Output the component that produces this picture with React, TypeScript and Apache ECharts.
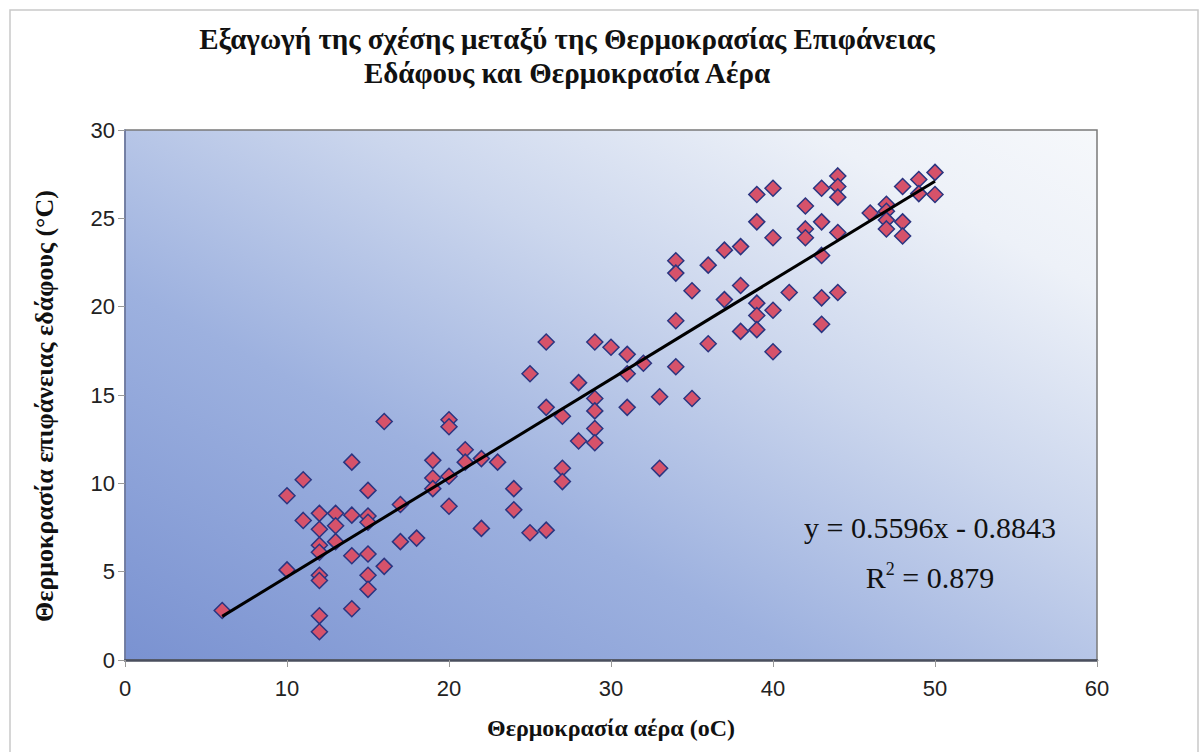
import React, { useEffect, useRef } from "react";
import * as echarts from "echarts";

// Air temperature (x) and soil surface temperature (y)
const airTemp = [
  6,
  10, 10,
  11, 11,
  12, 12, 12, 12, 12, 12, 12, 12,
  13, 13, 13,
  14, 14, 14, 14,
  15, 15, 15, 15, 15, 15,
  16, 16,
  17, 17,
  18,
  19, 19, 19,
  20, 20, 20, 20,
  21, 21,
  22, 22,
  23,
  24, 24,
  25, 25,
  26, 26, 26,
  27, 27, 27,
  28, 28,
  29, 29, 29, 29, 29,
  30,
  31, 31, 31,
  32,
  33, 33,
  34, 34, 34, 34,
  35, 35,
  36, 36,
  37, 37,
  38, 38, 38,
  39, 39, 39, 39, 39,
  40, 40, 40, 40,
  41,
  42, 42, 42,
  43, 43, 43, 43, 43,
  44, 44, 44, 44, 44,
  46,
  47, 47, 47, 47,
  48, 48, 48,
  49, 49,
  50, 50,
];
const soilTemp = [
  2.8,
  9.3, 5.1,
  10.2, 7.9,
  8.3, 7.4, 6.5, 6.1, 4.8, 4.5, 2.5, 1.6,
  8.3, 7.6, 6.7,
  11.2, 8.2, 5.9, 2.9,
  9.6, 8.15, 7.8, 6.0, 4.8, 4.0,
  13.5, 5.3,
  8.8, 6.7,
  6.9,
  11.3, 10.3, 9.7,
  13.6, 13.2, 10.4, 8.7,
  11.9, 11.2,
  11.4, 7.45,
  11.2,
  9.7, 8.5,
  16.2, 7.2,
  18.0, 14.3, 7.35,
  13.8, 10.85, 10.1,
  15.7, 12.4,
  18.0, 14.8, 14.1, 13.1, 12.3,
  17.7,
  17.3, 16.2, 14.3,
  16.8,
  14.9, 10.85,
  22.6, 21.9, 19.2, 16.6,
  20.9, 14.8,
  22.35, 17.9,
  23.2, 20.4,
  23.4, 21.2, 18.6,
  26.35, 24.8, 20.2, 19.5, 18.7,
  26.7, 23.9, 19.8, 17.45,
  20.8,
  25.7, 24.4, 23.9,
  26.7, 24.8, 22.9, 20.5, 19.0,
  27.4, 26.8, 26.2, 24.2, 20.8,
  25.3,
  25.8, 25.4, 24.9, 24.4,
  26.8, 24.8, 24.0,
  27.2, 26.4,
  27.6, 26.35,
];

// Linear trend line end points (as drawn)
const trendX = [6, 50];
const trendY = [2.47, 27.1];

const xTicks = { min: 0, max: 60, interval: 10 };
const yTicks = { min: 0, max: 30, interval: 5 };

const titleText =
  "Εξαγωγή της σχέσης μεταξύ της Θερμοκρασίας Επιφάνειας\nΕδάφους και Θερμοκρασία Αέρα";
const xName = "Θερμοκρασία αέρα (oC)";
const yName = "Θερμοκρασία επιφάνειας εδάφους (°C)";
const eqLine = "y = 0.5596x - 0.8843";
const r2Value = "0.879";

const SERIF = "'Liberation Serif', 'Times New Roman', serif";
const SANS = "'Liberation Sans', Arial, sans-serif";

export default function App() {
  const ref = useRef<HTMLDivElement>(null);

  useEffect(() => {
    if (!ref.current) return;
    const chart = echarts.init(ref.current, undefined, { renderer: "svg" });

    const points = airTemp.map((x, i) => [x, soilTemp[i]]);
    const trend = trendX.map((x, i) => [x, trendY[i]]);

    chart.setOption({
      animation: false,
      backgroundColor: "#ffffff",
      title: {
        text: titleText,
        left: 562,
        top: 17,
        textAlign: "center",
        textStyle: {
          fontFamily: SERIF,
          fontWeight: "bold",
          fontSize: 29,
          lineHeight: 34,
          color: "#111",
        },
      },
      grid: {
        left: 125,
        top: 130,
        width: 972,
        height: 530,
        show: true,
        borderColor: "#7a7a7a",
        borderWidth: 1.5,
        backgroundColor: new echarts.graphic.LinearGradient(0, 1, 1, 0, [
          { offset: 0, color: "#7a92d1" },
          { offset: 0.35, color: "#9db1df" },
          { offset: 0.62, color: "#cbd6ed" },
          { offset: 0.85, color: "#edf1f8" },
          { offset: 1, color: "#f6f8fb" },
        ]),
      },
      xAxis: {
        type: "value",
        min: xTicks.min,
        max: xTicks.max,
        interval: xTicks.interval,
        name: xName,
        nameLocation: "middle",
        nameGap: 56,
        nameTextStyle: {
          fontFamily: SERIF,
          fontWeight: "bold",
          fontSize: 24,
          color: "#111",
        },
        axisLine: { show: true, lineStyle: { color: "#4a4f5e", width: 2.5 } },
        axisTick: { show: true, length: 7, lineStyle: { color: "#999" } },
        axisLabel: {
          fontFamily: SANS,
          fontSize: 22,
          color: "#222",
          margin: 17,
        },
        splitLine: { show: false },
      },
      yAxis: {
        type: "value",
        min: yTicks.min,
        max: yTicks.max,
        interval: yTicks.interval,
        name: yName,
        nameLocation: "middle",
        nameGap: 68,
        nameRotate: 90,
        nameTextStyle: {
          fontFamily: SERIF,
          fontWeight: "bold",
          fontSize: 26,
          color: "#111",
          padding: [0, 22, 0, 0],
        },
        axisLine: { show: true, lineStyle: { color: "#6b7aa8", width: 1.5 } },
        axisTick: { show: true, length: 7, lineStyle: { color: "#999" } },
        axisLabel: {
          fontFamily: SANS,
          fontSize: 22,
          color: "#222",
          margin: 10,
        },
        splitLine: { show: false },
      },
      series: [
        {
          type: "line",
          data: trend,
          symbol: "none",
          lineStyle: { color: "#000", width: 3 },
          z: 3,
        },
        {
          type: "scatter",
          data: points,
          symbol: "diamond",
          symbolSize: 16,
          itemStyle: {
            color: "#d6526a",
            borderColor: "#2b3580",
            borderWidth: 1.5,
            opacity: 1,
          },
          z: 2,
        },
      ],
      graphic: [
        {
          type: "rect",
          shape: { x: 10, y: 10, width: 1188, height: 760 },
          style: { fill: "none", stroke: "#c9c9c9", lineWidth: 1.5 },
          silent: true,
          z: -1,
        },
        {
          type: "text",
          x: 930,
          y: 527,
          style: {
            text: eqLine,
            font: `30px ${SERIF}`,
            fill: "#111",
            textAlign: "center",
            textVerticalAlign: "middle",
          },
          z: 10,
        },
        {
          type: "text",
          x: 930,
          y: 576,
          style: {
            text: `{r|R}{s|2}{r| = ${r2Value}}`,
            rich: {
              r: { fontFamily: SERIF, fontSize: 30, fill: "#111", verticalAlign: "bottom" },
              s: { fontFamily: SERIF, fontSize: 18, fill: "#111", verticalAlign: "top", padding: [0, 0, 15, 0] },
            },
            textAlign: "center",
            textVerticalAlign: "middle",
          },
          z: 10,
        },
      ],
    });

    return () => chart.dispose();
  }, []);

  return (
    <div
      ref={ref}
      style={{
        position: "fixed",
        left: 0,
        top: 0,
        width: 1202,
        height: 752,
        background: "#fff",
      }}
    />
  );
}
